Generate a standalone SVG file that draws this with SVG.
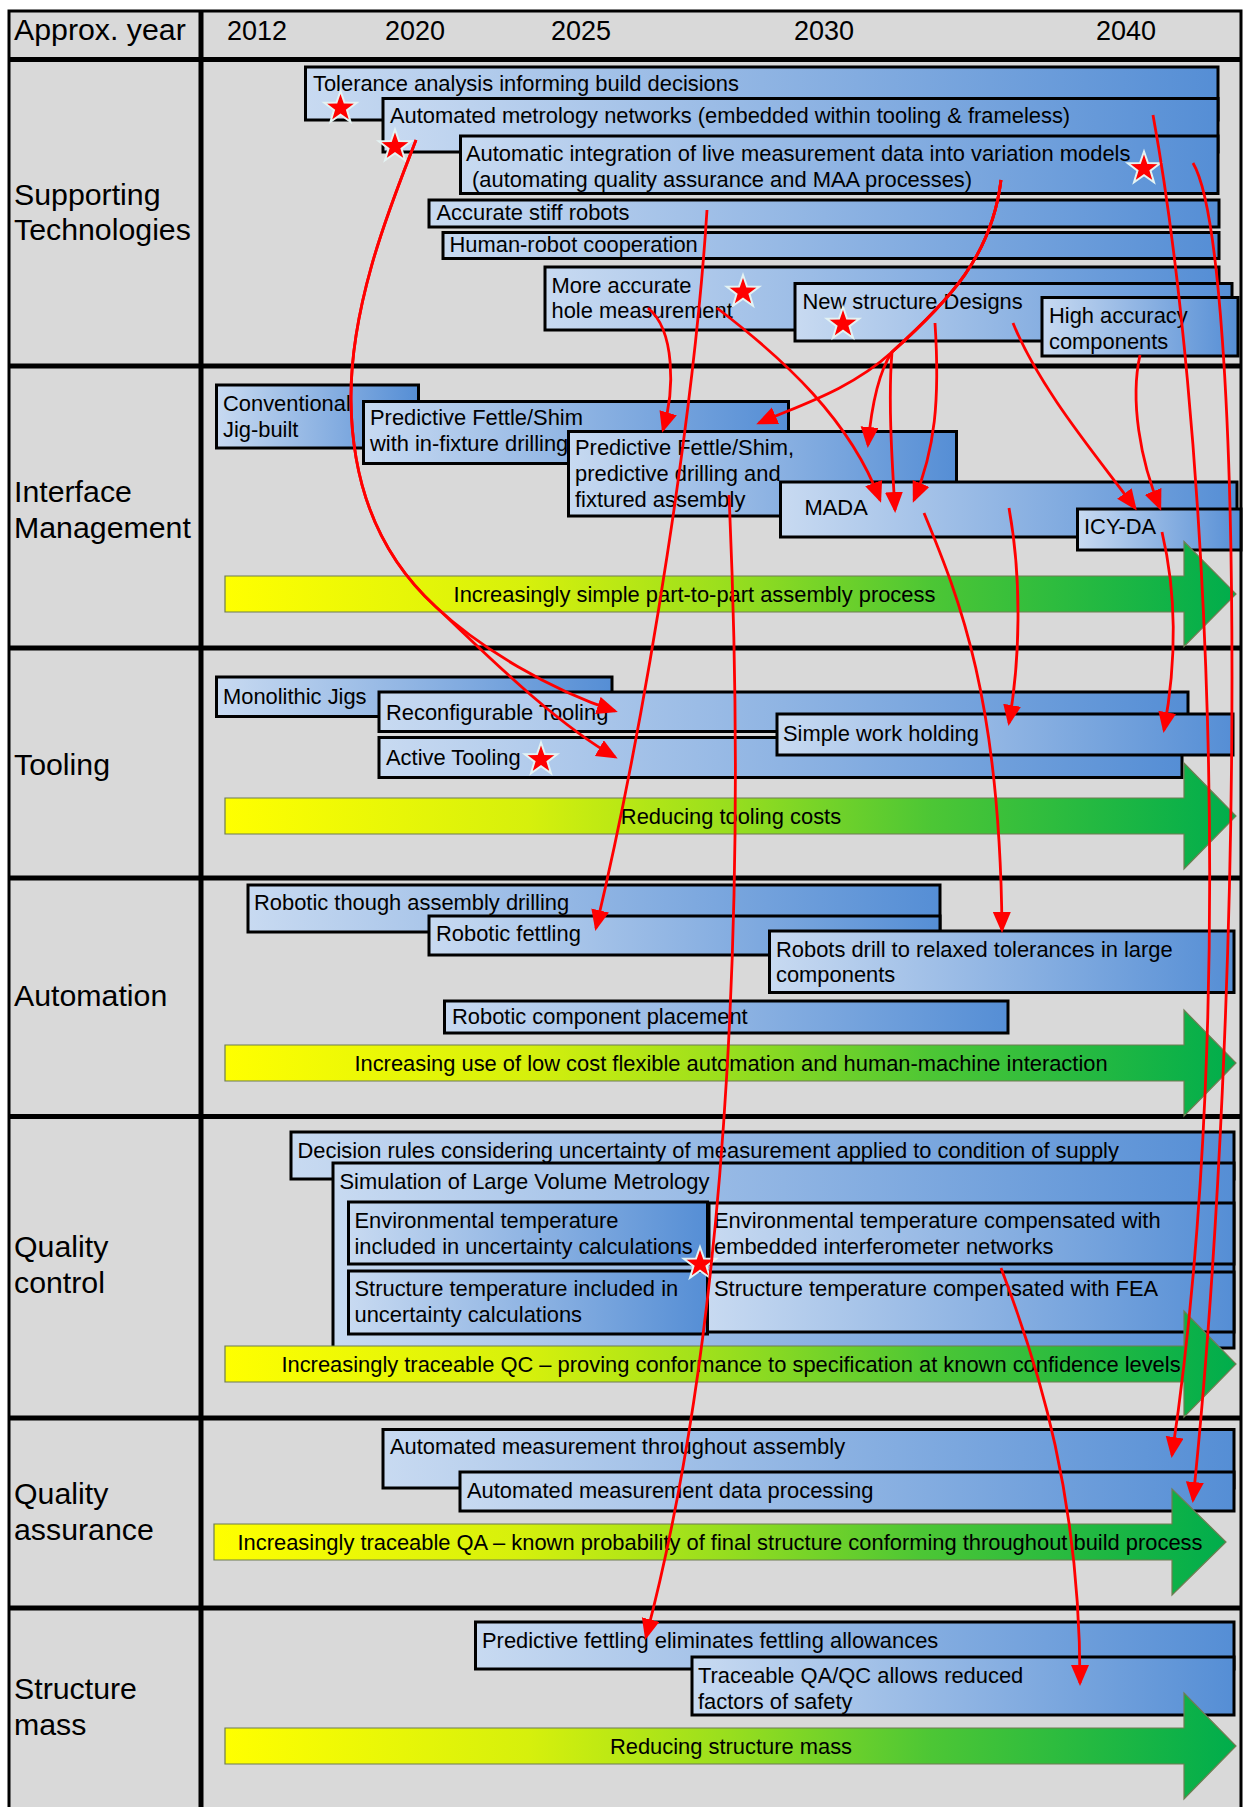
<svg xmlns="http://www.w3.org/2000/svg" width="1244" height="1807" viewBox="0 0 1244 1807">
<defs>
<linearGradient id="blue" x1="0" y1="0" x2="1" y2="0">
<stop offset="0" stop-color="#c8daf1"/><stop offset="0.5" stop-color="#8fb4e3"/><stop offset="1" stop-color="#558ed5"/>
</linearGradient>
<linearGradient id="green" x1="0" y1="0" x2="1" y2="0">
<stop offset="0" stop-color="#ffff00"/><stop offset="0.3" stop-color="#d6f00c"/><stop offset="0.5" stop-color="#98de1e"/><stop offset="0.7" stop-color="#4cc635"/><stop offset="1" stop-color="#00ad4c"/>
</linearGradient>
<marker id="ah" markerUnits="userSpaceOnUse" markerWidth="22" markerHeight="20" refX="18" refY="9" orient="auto">
<path d="M0,0 L21,9 L0,18 Z" fill="#ff0000"/>
</marker>
<path id="star" d="M0,-17 L4,-5.5 L16.2,-5.3 L6.5,2.1 L10,13.8 L0,6.8 L-10,13.8 L-6.5,2.1 L-16.2,-5.3 L-4,-5.5 Z"/>
<style>
.bar{fill:url(#blue);stroke:#000;stroke-width:3}
.ga{fill:url(#green);stroke:#6f7d52;stroke-width:1.2}
text{font-family:"Liberation Sans",Arial,sans-serif;fill:#000}
.t{font-size:21.9px}
.gt{font-size:21.9px;text-anchor:middle}
.lbl{font-size:30.3px}
.yr{font-size:27px;text-anchor:middle}
.grid{stroke:#000;fill:none}
.conn{fill:none;stroke:#ff0000;stroke-width:2.8;marker-end:url(#ah)}
.st{fill:#ff0000;stroke:#e4f3f3;stroke-width:2}
</style>
</defs>
<rect x="0" y="0" width="1244" height="1807" fill="#ffffff"/>
<g id="grid">
<rect x="9" y="11" width="1232" height="1800" fill="#d9d9d9"/>
<path class="grid" stroke-width="3" d="M9,1807 V11 H1241 V1807"/>
<path class="grid" stroke-width="5" d="M9,59.5 H1241 M9,366 H1241 M9,648 H1241 M9,878 H1241 M9,1116.5 H1241 M9,1418 H1241 M9,1608 H1241 M201,11 V1807"/>
<text class="lbl" x="14" y="40">Approx. year</text>
<text class="yr" x="257" y="40">2012</text>
<text class="yr" x="415" y="40">2020</text>
<text class="yr" x="581" y="40">2025</text>
<text class="yr" x="824" y="40">2030</text>
<text class="yr" x="1126" y="40">2040</text>
<text class="lbl" x="14" y="205">Supporting</text><text class="lbl" x="14" y="240">Technologies</text>
<text class="lbl" x="14" y="502">Interface</text><text class="lbl" x="14" y="538">Management</text>
<text class="lbl" x="14" y="775">Tooling</text>
<text class="lbl" x="14" y="1006">Automation</text>
<text class="lbl" x="14" y="1257">Quality</text><text class="lbl" x="14" y="1293">control</text>
<text class="lbl" x="14" y="1504">Quality</text><text class="lbl" x="14" y="1540">assurance</text>
<text class="lbl" x="14" y="1699">Structure</text><text class="lbl" x="14" y="1735">mass</text>
</g>
<g id="st-tolerance"><rect class="bar" x="305.5" y="67" width="912.5" height="53"/><text class="t" x="313" y="91">Tolerance analysis informing build decisions</text></g>
<g id="st-metrology"><rect class="bar" x="383" y="98.5" width="835" height="53.5"/><text class="t" x="390" y="123">Automated metrology networks (embedded within tooling &amp; frameless)</text></g>
<g id="st-integration"><rect class="bar" x="460.5" y="136" width="757.5" height="57.5"/><text class="t" x="466" y="161">Automatic integration of live measurement data into variation models</text><text class="t" x="472" y="186.5">(automating quality assurance and MAA processes)</text></g>
<g id="st-robots"><rect class="bar" x="429" y="200" width="790" height="27"/><text class="t" x="436.5" y="219.5">Accurate stiff robots</text></g>
<g id="st-hrc"><rect class="bar" x="443" y="232.5" width="776" height="26"/><text class="t" x="449.5" y="251.5">Human-robot cooperation</text></g>
<g id="st-hole"><rect class="bar" x="545" y="267" width="674" height="63"/><text class="t" x="551.5" y="292.5">More accurate</text><text class="t" x="551.5" y="317.5">hole measurement</text></g>
<g id="st-newdesign"><rect class="bar" x="795" y="283.5" width="437" height="57.5"/><text class="t" x="802.5" y="308.5">New structure Designs</text></g>
<g id="st-highacc"><rect class="bar" x="1042" y="297.5" width="196" height="58.5"/><text class="t" x="1049" y="323">High accuracy</text><text class="t" x="1049" y="348.5">components</text></g>
<g id="im-conventional"><rect class="bar" x="216.5" y="385" width="202" height="63"/><text class="t" x="223" y="411">Conventional</text><text class="t" x="223" y="437">Jig-built</text></g>
<g id="im-pfs1"><rect class="bar" x="363.5" y="401.5" width="425" height="62"/><text class="t" x="370" y="425">Predictive Fettle/Shim</text><text class="t" x="370" y="451">with in-fixture drilling</text></g>
<g id="im-pfs2"><rect class="bar" x="568.5" y="431.5" width="388" height="84.5"/><text class="t" x="575" y="455">Predictive Fettle/Shim,</text><text class="t" x="575" y="480.5">predictive drilling and</text><text class="t" x="575" y="506.5">fixtured assembly</text></g>
<g id="im-mada"><rect class="bar" x="780.5" y="482" width="456.5" height="55"/><text class="t" x="804.5" y="515">MADA</text></g>
<g id="im-icyda"><rect class="bar" x="1077.5" y="509" width="163.5" height="41"/><text class="t" x="1084" y="533.5">ICY-DA</text></g>
<g id="to-mono"><rect class="bar" x="216.5" y="677" width="395.5" height="39.5"/><text class="t" x="223" y="703.5">Monolithic Jigs</text></g>
<g id="to-reconf"><rect class="bar" x="379" y="692" width="809" height="39.5"/><text class="t" x="386" y="719.5">Reconfigurable Tooling</text></g>
<g id="to-active"><rect class="bar" x="379" y="737.5" width="803" height="40"/><text class="t" x="386" y="764.5">Active Tooling</text></g>
<g id="to-simple"><rect class="bar" x="777" y="714" width="456" height="41"/><text class="t" x="783" y="741">Simple work holding</text></g>
<g id="au-drilling"><rect class="bar" x="248" y="885" width="692" height="47"/><text class="t" x="254" y="910">Robotic though assembly drilling</text></g>
<g id="au-fettling"><rect class="bar" x="429" y="916" width="511" height="39"/><text class="t" x="436" y="941">Robotic fettling</text></g>
<g id="au-relaxed"><rect class="bar" x="769.5" y="931" width="464.5" height="61.5"/><text class="t" x="776" y="957">Robots drill to relaxed tolerances in large</text><text class="t" x="776" y="982">components</text></g>
<g id="au-placement"><rect class="bar" x="444.5" y="1001" width="563.5" height="32"/><text class="t" x="452" y="1023.5">Robotic component placement</text></g>
<g id="qc-decision"><rect class="bar" x="291" y="1132" width="943" height="47"/><text class="t" x="297.5" y="1157.5">Decision rules considering uncertainty of measurement applied to condition of supply</text></g>
<g id="qc-lvm"><rect class="bar" x="333" y="1163" width="901" height="185"/><text class="t" x="339.5" y="1189">Simulation of Large Volume Metrology</text></g>
<g id="qc-envincl"><rect class="bar" x="348.5" y="1202" width="359" height="62"/><text class="t" x="354.5" y="1227.5">Environmental temperature</text><text class="t" x="354.5" y="1253.5">included in uncertainty calculations</text></g>
<g id="qc-envcomp"><rect class="bar" x="709" y="1203" width="525" height="61"/><text class="t" x="714" y="1227.5">Environmental temperature compensated with</text><text class="t" x="714" y="1253.5">embedded interferometer networks</text></g>
<g id="qc-strincl"><rect class="bar" x="348.5" y="1271" width="359" height="63"/><text class="t" x="354.5" y="1296">Structure temperature included in</text><text class="t" x="354.5" y="1322">uncertainty calculations</text></g>
<g id="qc-strfea"><rect class="bar" x="707.5" y="1272" width="526.5" height="60"/><text class="t" x="714" y="1296">Structure temperature compensated with FEA</text></g>
<g id="qa-measure"><rect class="bar" x="383" y="1429.5" width="851" height="58.5"/><text class="t" x="390" y="1454">Automated measurement throughout assembly</text></g>
<g id="qa-data"><rect class="bar" x="460" y="1472" width="774" height="39"/><text class="t" x="467" y="1497.5">Automated measurement data processing</text></g>
<g id="sm-fettling"><rect class="bar" x="475.5" y="1622" width="758.5" height="47"/><text class="t" x="482" y="1647.5">Predictive fettling eliminates fettling allowances</text></g>
<g id="sm-traceable"><rect class="bar" x="692" y="1657" width="542" height="58"/><text class="t" x="698" y="1683">Traceable QA/QC allows reduced</text><text class="t" x="698" y="1708.5">factors of safety</text></g>
<g id="trend-im"><path class="ga" d="M225,576 H1184 V541.5 L1236,594 L1184,646.5 V612 H225 Z"/><text class="gt" x="694.5" y="601.5">Increasingly simple part-to-part assembly process</text></g>
<g id="trend-tooling"><path class="ga" d="M225,798 H1184 V763 L1236,816 L1184,869 V834 H225 Z"/><text class="gt" x="731" y="823.5">Reducing tooling costs</text></g>
<g id="trend-automation"><path class="ga" d="M225,1045 H1184 V1010 L1236,1063 L1184,1116 V1081 H225 Z"/><text class="gt" x="731" y="1070.5">Increasing use of low cost flexible automation and human-machine interaction</text></g>
<g id="trend-qc"><path class="ga" d="M225,1346 H1184 V1311 L1236,1364 L1184,1417 V1382 H225 Z"/><text class="gt" x="731" y="1371.5">Increasingly traceable QC – proving conformance to specification at known confidence levels</text></g>
<g id="trend-qa"><path class="ga" d="M214,1524 H1172 V1489 L1226,1542 L1172,1595 V1560 H214 Z"/><text class="gt" x="720" y="1549.5">Increasingly traceable QA – known probability of final structure conforming throughout build process</text></g>
<g id="trend-sm"><path class="ga" d="M225,1728 H1184 V1693 L1236,1746 L1184,1799 V1764 H225 Z"/><text class="gt" x="731" y="1753.5">Reducing structure mass</text></g>
<g id="stars">
<use href="#star" class="st" x="340.5" y="108"/>
<use href="#star" class="st" x="395" y="146.5"/>
<use href="#star" class="st" x="1144" y="168.5"/>
<use href="#star" class="st" x="743" y="292"/>
<use href="#star" class="st" x="843" y="324"/>
<use href="#star" class="st" x="541" y="759.5"/>
<use href="#star" class="st" x="700" y="1264"/>
</g>
<g id="connectors">
<path class="conn" d="M416,140 C395,195 350,300 351,400 C352,500 390,565 436,607 C480,648 550,690 615,711"/>
<path class="conn" d="M416,140 C395,195 350,300 351,400 C352,500 390,565 436,607 C476,644 550,720 615,757"/>
<path class="conn" d="M707,210 C695,400 650,700 596,928"/>
<path class="conn" d="M1001,180 C992,255 950,300 892,352 C850,390 800,405 759,423"/>
<path class="conn" d="M1001,180 C992,255 950,300 892,352 C880,370 872,400 868,445"/>
<path class="conn" d="M1001,180 C992,255 950,300 892,352 C888,400 892,460 895,510"/>
<path class="conn" d="M717,308 C785,360 850,420 880,500"/>
<path class="conn" d="M648,308 C675,330 675,390 663,430"/>
<path class="conn" d="M935,323 C940,400 935,450 914,500"/>
<path class="conn" d="M1013,323 C1040,390 1100,460 1135,508"/>
<path class="conn" d="M1140,355 C1130,400 1140,460 1160,508"/>
<path class="conn" d="M924,513 C960,600 1000,700 1002,930"/>
<path class="conn" d="M1009,508 C1022,580 1020,660 1009,723"/>
<path class="conn" d="M1162,532 C1178,600 1175,670 1164,730"/>
<path class="conn" d="M729,495 C745,850 735,1300 646,1637"/>
<path class="conn" d="M1001,1268 C1040,1370 1080,1500 1080,1683"/>
<path class="conn" d="M1153,115 C1205,400 1240,1000 1172,1455"/>
<path class="conn" d="M1193,163 C1245,250 1245,1000 1193,1500"/>
</g>
</svg>
